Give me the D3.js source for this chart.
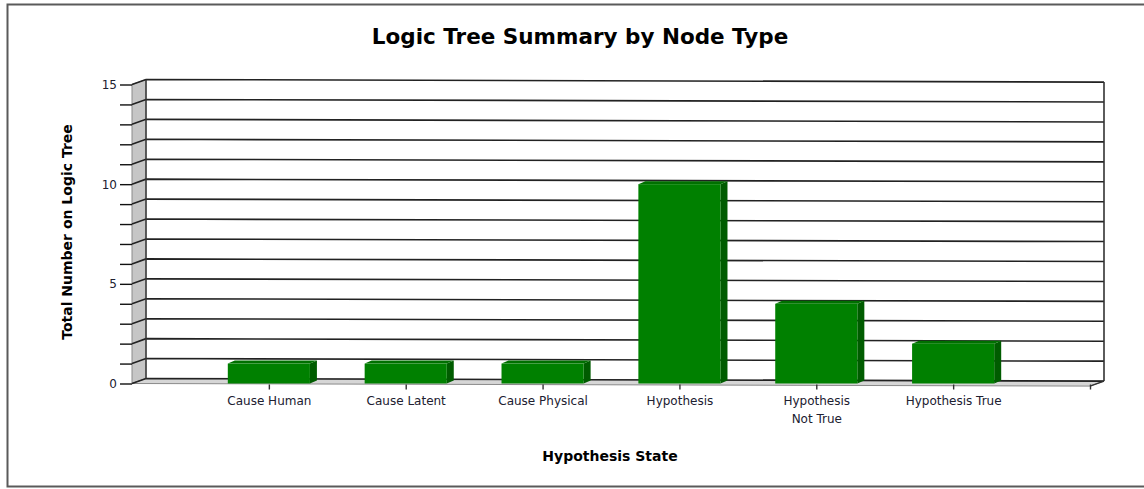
<!DOCTYPE html>
<html>
<head>
<meta charset="utf-8">
<script src="https://cdn.jsdelivr.net/npm/d3@7"></script>
<style>
  html, body { margin: 0; padding: 0; background: #ffffff; }
  svg { display: block; }
  text { font-family: "DejaVu Sans", Verdana, sans-serif; }
</style>
</head>
<body>
<svg id="chart" width="1144" height="489"></svg>
<script>
// Node counts per hypothesis state
const categories = ["Cause Human", "Cause Latent", "Cause Physical", "Hypothesis", "Hypothesis Not True", "Hypothesis True"];
const counts = [1, 1, 1, 10, 4, 2];
const yTickValues = [0, 1, 2, 3, 4, 5, 6, 7, 8, 9, 10, 11, 12, 13, 14, 15];
const yTickLabels = [0, 5, 10, 15];

const chartTitle = "Logic Tree Summary by Node Type";
const xTitle = "Hypothesis State";
const yTitle = "Total Number on Logic Tree";

const svg = d3.select("#chart");

// 3D frame geometry: front plane and the depth offset to the back wall
const DX = 14, DY = 5;          // depth of the wall/floor
const BDX = 7, BDY = 3;         // depth of the bars
const SLOPE = 2.6;              // slight skew of the back wall lines
const fx0 = 132, fx1 = 1090;

const x = d3.scaleLinear().domain([0, categories.length + 1]).range([fx0, fx1]);
const y = d3.scaleLinear().domain([0, 15]).range([383.5, 84.5]);

const bx0 = fx0 + DX, bx1 = fx1 + DX;
const yBack = v => y(v) - DY;

// Outer border
svg.append("rect")
  .attr("x", 7.5).attr("y", 4.5)
  .attr("width", 1150).attr("height", 482)
  .attr("fill", "#ffffff")
  .attr("stroke", "#5a5a5a").attr("stroke-width", 2);

// Title
svg.append("text")
  .attr("x", 580).attr("y", 44)
  .attr("text-anchor", "middle")
  .attr("font-size", 21.5).attr("font-weight", "bold")
  .attr("fill", "#000")
  .text(chartTitle);

const plot = svg.append("g");

// Back wall
plot.append("path")
  .attr("d", `M${bx0},${yBack(15)} L${bx1},${yBack(15) + SLOPE} L${bx1},${yBack(0) + SLOPE} L${bx0},${yBack(0)} Z`)
  .attr("fill", "#ffffff");

// Left wall
plot.append("path")
  .attr("d", `M${fx0},${y(0)} L${fx0},${y(15)} L${bx0},${yBack(15)} L${bx0},${yBack(0)} Z`)
  .attr("fill", "#c6c6c6")
  .attr("stroke", "#8a8a8a").attr("stroke-width", 1);

// Floor
plot.append("path")
  .attr("d", `M${fx0},${y(0)} L${fx1},${y(0) + SLOPE} L${bx1},${yBack(0) + SLOPE} L${bx0},${yBack(0)} Z`)
  .attr("fill", "#d6d6d6")
  .attr("stroke", "#8a8a8a").attr("stroke-width", 1);

// Gridlines: across the left wall and along the back wall
plot.append("g").selectAll("path")
  .data(yTickValues)
  .join("path")
  .attr("d", v => `M${fx0},${y(v)} L${bx0},${yBack(v)} L${bx1},${yBack(v) + SLOPE}`)
  .attr("fill", "none")
  .attr("stroke", "#222")
  .attr("stroke-width", 1.6);

// Back corner of left wall and right edge of back wall
plot.append("line")
  .attr("x1", bx0).attr("x2", bx0)
  .attr("y1", yBack(15)).attr("y2", yBack(0))
  .attr("stroke", "#333").attr("stroke-width", 1.4);
plot.append("line")
  .attr("x1", bx1).attr("x2", bx1)
  .attr("y1", yBack(15) + SLOPE).attr("y2", yBack(0) + SLOPE)
  .attr("stroke", "#333").attr("stroke-width", 1.6);
plot.append("line")
  .attr("x1", fx1).attr("x2", bx1)
  .attr("y1", y(0) + SLOPE).attr("y2", yBack(0) + SLOPE)
  .attr("stroke", "#333").attr("stroke-width", 1.4);

// Y axis
const yAxis = d3.axisLeft(y)
  .tickValues(yTickValues)
  .tickSize(12)
  .tickPadding(3)
  .tickFormat(v => yTickLabels.includes(v) ? v : "");
const yAxisG = svg.append("g")
  .attr("transform", `translate(${fx0},0)`)
  .call(yAxis);
yAxisG.select(".domain").remove();
yAxisG.selectAll(".tick line").attr("stroke", "#111").attr("stroke-width", 1.4);
yAxisG.selectAll(".tick text")
  .attr("font-family", "DejaVu Sans, sans-serif")
  .attr("font-size", 12).attr("fill", "#202030");

// Bars with front, top and side faces
const bw = (x(1) - x(0)) * 0.6;
const bars = svg.append("g").selectAll("g")
  .data(counts.map((v, i) => ({ cat: categories[i], v, pos: i + 1 })))
  .join("g");

bars.append("path")
  .attr("d", d => {
    const xr = x(d.pos) + bw / 2;
    return `M${xr},${y(d.v)} L${xr + BDX},${y(d.v) - BDY} L${xr + BDX},${y(0) - BDY} L${xr},${y(0)} Z`;
  })
  .attr("fill", "#005c00");

bars.append("path")
  .attr("d", d => {
    const xl = x(d.pos) - bw / 2, xr = x(d.pos) + bw / 2;
    return `M${xl},${y(d.v)} L${xl + BDX},${y(d.v) - BDY} L${xr + BDX},${y(d.v) - BDY} L${xr},${y(d.v)} Z`;
  })
  .attr("fill", "#007000");

bars.append("rect")
  .attr("x", d => x(d.pos) - bw / 2)
  .attr("y", d => y(d.v))
  .attr("width", bw)
  .attr("height", d => y(0) - y(d.v))
  .attr("fill", "#008000");

// X axis (category ticks along the front floor edge)
const xAxis = d3.axisBottom(x)
  .tickValues(d3.range(1, categories.length + 2))
  .tickSize(5)
  .tickPadding(7)
  .tickFormat(v => categories[v - 1] || "");
const xAxisG = svg.append("g")
  .attr("transform", `translate(0,${y(0) + 1})`)
  .call(xAxis);
xAxisG.select(".domain").remove();
xAxisG.selectAll(".tick line").attr("stroke", "#333").attr("stroke-width", 1.4);
xAxisG.selectAll(".tick text")
  .attr("font-family", "DejaVu Sans, sans-serif")
  .attr("font-size", 12).attr("fill", "#202030")
  .call(wrap, 115);

// Labels wider than the limit are split in two lines of balanced length
function wrap(textSel, width) {
  textSel.each(function () {
    const text = d3.select(this);
    const label = text.text();
    if (!label || this.getComputedTextLength() <= width) return;
    const words = label.split(/\s+/);
    const yAttr = text.attr("y");
    const dy = parseFloat(text.attr("dy")) || 0;
    let best = 1, bestW = Infinity;
    for (let k = 1; k < words.length; k++) {
      text.text(words.slice(0, k).join(" "));
      const a = this.getComputedTextLength();
      text.text(words.slice(k).join(" "));
      const b = this.getComputedTextLength();
      if (Math.max(a, b) < bestW) { bestW = Math.max(a, b); best = k; }
    }
    text.text(null);
    [words.slice(0, best).join(" "), words.slice(best).join(" ")].forEach((ln, i) => {
      text.append("tspan").attr("x", 0).attr("y", yAttr)
        .attr("dy", (dy + i * 1.5) + "em").text(ln);
    });
  });
}

// Axis titles
svg.append("text")
  .attr("x", 610).attr("y", 461)
  .attr("text-anchor", "middle")
  .attr("font-size", 14).attr("font-weight", "bold")
  .attr("fill", "#000")
  .text(xTitle);

svg.append("text")
  .attr("transform", "translate(72,232) rotate(-90)")
  .attr("text-anchor", "middle")
  .attr("font-size", 14).attr("font-weight", "bold")
  .attr("fill", "#000")
  .text(yTitle);
</script>
</body>
</html>
